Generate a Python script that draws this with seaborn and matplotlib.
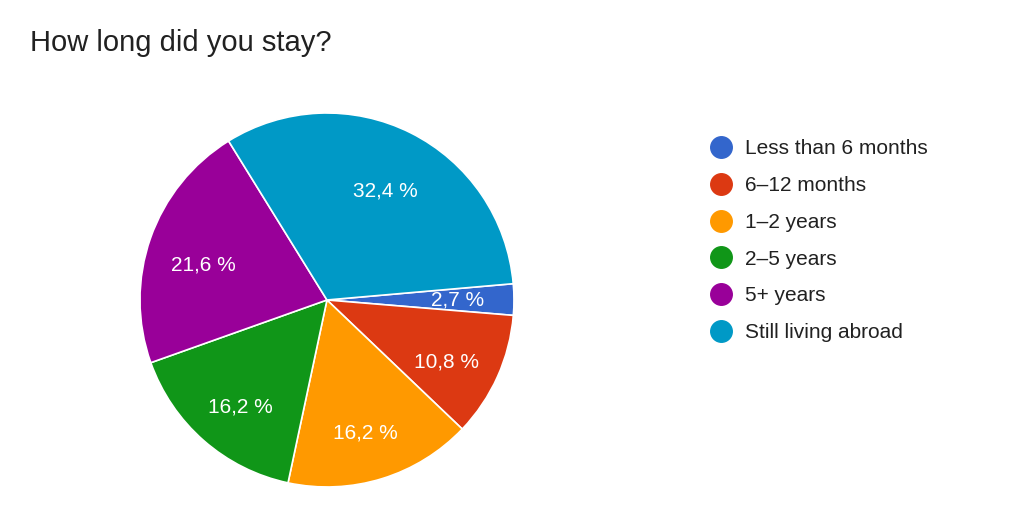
import matplotlib
matplotlib.use("Agg")
import matplotlib.pyplot as plt
import seaborn as sns
from matplotlib.lines import Line2D

sns.set_theme(style="white")
plt.rcParams['font.family'] = ['Liberation Sans', 'DejaVu Sans']

# Data
categories = ["Less than 6 months", "6–12 months", "1–2 years",
              "2–5 years", "5+ years", "Still living abroad"]
percentages = [2.7, 10.8, 16.2, 16.2, 21.6, 32.4]
colors = ["#3366CC", "#DC3912", "#FF9900", "#109618", "#990099", "#0099C6"]

fig = plt.figure(figsize=(10.24, 5.25), dpi=100)
fig.patch.set_facecolor("white")

ax = fig.add_axes([0.1367, 0.0724, 0.3652, 0.7124])
wedges, texts, autotexts = ax.pie(
    percentages,
    colors=colors,
    startangle=5,
    counterclock=False,
    autopct=lambda p: f"{p:.1f} %".replace(".", ","),
    pctdistance=0.7,
    wedgeprops=dict(edgecolor="white", linewidth=1.2),
    textprops=dict(color="white", fontsize=15),
)
# Google-style labels sit slightly lower than the wedge centre
# (except the thin first slice, where that would cross the edge)
for i, t in enumerate(autotexts):
    x, y = t.get_position()
    dy = 0.0 if i == 0 else 0.045
    t.set_position((x, y - dy))

ax.set_aspect("equal")
ax.set_xlim(-1.0, 1.0)
ax.set_ylim(-1.0, 1.0)
ax.axis("off")

fig.text(0.029, 0.918, "How long did you stay?", fontsize=21, color="#212121",
         va="center", ha="left")

handles = [Line2D([0], [0], marker="o", linestyle="", markersize=15.5,
                  markerfacecolor=c, markeredgecolor=c) for c in colors]
fig.legend(handles, categories, loc="upper left",
           bbox_to_anchor=(0.674, 0.77), frameon=False,
           fontsize=15, labelspacing=0.85, handlelength=1.2,
           handletextpad=0.55, labelcolor="#212121")

fig.savefig("out.png", dpi=100, facecolor="white")
